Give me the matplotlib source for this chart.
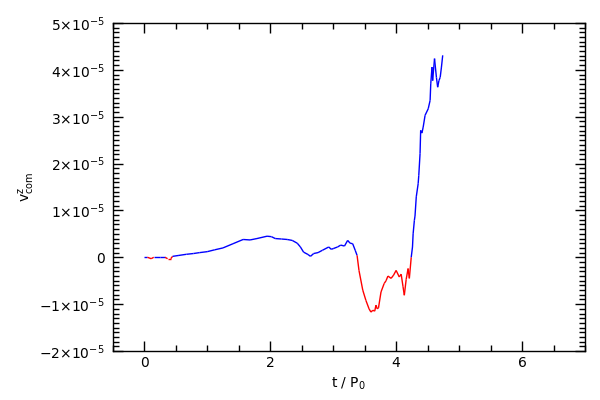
import numpy as np
import matplotlib
matplotlib.use('Agg')
import matplotlib.pyplot as plt
from matplotlib.collections import LineCollection
from matplotlib.ticker import MultipleLocator, AutoMinorLocator

plt.rcParams['mathtext.default'] = 'regular'

# time in units of P0
t = [0.0, 0.05, 0.11, 0.15, 0.25, 0.33, 0.37, 0.42, 0.45, 0.55, 0.67, 0.78, 0.88, 1.0,
     1.12, 1.25, 1.41, 1.57, 1.68, 1.79, 1.95, 2.02, 2.08, 2.18, 2.27, 2.35, 2.43, 2.48,
     2.53, 2.6, 2.64, 2.69, 2.76, 2.83, 2.93, 2.97, 3.01, 3.07, 3.12, 3.18, 3.23, 3.27,
     3.31, 3.35, 3.38, 3.41, 3.47, 3.52, 3.57, 3.6, 3.63, 3.66, 3.68, 3.7, 3.72, 3.76,
     3.81, 3.84, 3.87, 3.92, 3.96, 4.0, 4.05, 4.08, 4.11, 4.13, 4.16, 4.19, 4.21, 4.24,
     4.26, 4.27, 4.29, 4.3, 4.32, 4.35, 4.36, 4.38, 4.39, 4.41, 4.43, 4.46, 4.51, 4.54,
     4.55, 4.57, 4.58, 4.61, 4.64, 4.66, 4.68, 4.7, 4.72, 4.74]
# v^z_com in units of 1e-5
v = [0.0, 0.0, -0.03, 0.0, 0.0, 0.0, -0.03, -0.03, 0.02, 0.04, 0.064, 0.08, 0.1, 0.12,
     0.16, 0.2, 0.29, 0.38, 0.37, 0.4, 0.45, 0.44, 0.4, 0.39, 0.38, 0.36, 0.3, 0.22,
     0.11, 0.06, 0.02, 0.08, 0.1, 0.15, 0.22, 0.17, 0.19, 0.22, 0.26, 0.24, 0.36, 0.3,
     0.29, 0.15, 0.04, -0.28, -0.7, -0.92, -1.1, -1.17, -1.13, -1.15, -1.02, -1.1, -1.08, -0.74,
     -0.56, -0.5, -0.4, -0.45, -0.38, -0.28, -0.42, -0.36, -0.63, -0.81, -0.47, -0.24, -0.45, 0.0,
     0.22, 0.5, 0.79, 0.88, 1.29, 1.57, 1.75, 2.21, 2.71, 2.65, 2.78, 3.03, 3.17, 3.35,
     3.7, 4.06, 3.77, 4.24, 3.84, 3.63, 3.77, 3.84, 4.06, 4.31]

tt = np.array(t)
vv = np.array(v) * 1e-5

fig = plt.figure(figsize=(6, 4), dpi=100)
ax = fig.add_axes([0.188, 0.1225, 0.787, 0.82])

pts = np.column_stack([tt, vv])
segs = np.stack([pts[:-1], pts[1:]], axis=1)
mid = 0.5 * (vv[:-1] + vv[1:])
cols = ['#ff0000' if m < 0 else '#0000ff' for m in mid]
ax.add_collection(LineCollection(segs, colors=cols, linewidths=1.0))

ax.set_xlim(-0.5, 7)
ax.set_ylim(-2e-5, 5e-5)
ax.xaxis.set_major_locator(MultipleLocator(2))
ax.xaxis.set_minor_locator(MultipleLocator(0.5))
ax.yaxis.set_minor_locator(AutoMinorLocator(10))

yt = [-2, -1, 0, 1, 2, 3, 4, 5]
ylabels = [r'$%d{\times}10^{-5}$' % k if k != 0 else '0' for k in yt]
ax.set_yticks([k * 1e-5 for k in yt])
ax.set_yticklabels(ylabels)
ax.set_xticks([0, 2, 4, 6])
ax.set_xticklabels(['0', '2', '4', '6'])

ax.tick_params(which='both', direction='in', top=True, right=True, labelsize=10)
ax.tick_params(which='major', length=7, width=1)
ax.tick_params(which='minor', length=4, width=1)
ax.tick_params(axis='y', pad=6)
for s in ax.spines.values():
    s.set_linewidth(1)

ax.set_xlabel(r't / P$_0$', fontsize=10)
ax.set_ylabel(r'$v^z_{com}$', fontsize=10)
ax.yaxis.set_label_coords(-0.16, 0.5)

fig.savefig('out.png', dpi=100)
